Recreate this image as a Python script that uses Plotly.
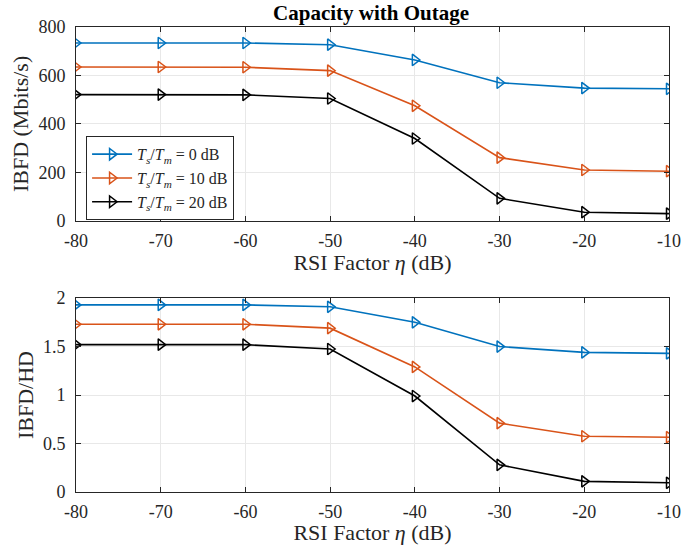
import plotly.graph_objects as go
from plotly.subplots import make_subplots

eta = [-80, -70, -60, -50, -40, -30, -20, -10]
series_names = ["<i>T<sub>s</sub></i>/<i>T<sub>m</sub></i> = 0 dB",
                "<i>T<sub>s</sub></i>/<i>T<sub>m</sub></i> = 10 dB",
                "<i>T<sub>s</sub></i>/<i>T<sub>m</sub></i> = 20 dB"]
colors = ["#0072BD", "#D95319", "#000000"]

ibfd_0 = [734, 734, 734, 727, 664, 570, 548, 545]
ibfd_10 = [635, 635, 634, 620, 475, 261, 210, 205]
ibfd_20 = [521, 521, 520, 505, 340, 93, 36, 30]

ratio_0 = [1.93, 1.93, 1.93, 1.91, 1.75, 1.50, 1.44, 1.43]
ratio_10 = [1.73, 1.73, 1.73, 1.69, 1.29, 0.71, 0.575, 0.565]
ratio_20 = [1.52, 1.52, 1.52, 1.475, 0.99, 0.28, 0.11, 0.095]

xticks = [-80, -70, -60, -50, -40, -30, -20, -10]

fig = make_subplots(rows=2, cols=1, vertical_spacing=0.166)

for i, ys in enumerate([ibfd_0, ibfd_10, ibfd_20]):
    fig.add_trace(go.Scatter(x=eta, y=ys, mode="lines+markers", name=series_names[i],
                             line=dict(color=colors[i], width=1.6),
                             marker=dict(symbol="triangle-right-open", size=10, color=colors[i],
                                         line=dict(width=1.5))),
                  row=1, col=1)
for i, ys in enumerate([ratio_0, ratio_10, ratio_20]):
    fig.add_trace(go.Scatter(x=eta, y=ys, mode="lines+markers", name=series_names[i],
                             showlegend=False,
                             line=dict(color=colors[i], width=1.6),
                             marker=dict(symbol="triangle-right-open", size=10, color=colors[i],
                                         line=dict(width=1.5))),
                  row=2, col=1)

axis_common = dict(showline=True, linecolor="#262626", linewidth=1, mirror="ticks",
                   ticks="inside", ticklen=5, tickcolor="#262626", automargin=False,
                   showgrid=True, gridcolor="#e8e8e8", gridwidth=1, zeroline=False,
                   tickfont=dict(family="Liberation Serif", size=18, color="#262626"))

title_font = dict(family="Liberation Serif", size=22, color="#262626")

fig.update_xaxes(**axis_common, range=[-80, -10], tickvals=xticks,
                 ticktext=[str(v) for v in xticks], ticklabelstandoff=3,
                 title=dict(text="RSI Factor <i>η</i> (dB)", standoff=4, font=title_font))
fig.update_yaxes(**axis_common, ticklabelstandoff=6)
fig.update_yaxes(range=[0, 800], tickvals=[0, 200, 400, 600, 800],
                 title=dict(text="IBFD (Mbits/s)", standoff=3, font=title_font),
                 row=1, col=1)
fig.update_yaxes(range=[0, 2], tickvals=[0, 0.5, 1, 1.5, 2],
                 ticktext=["0", "0.5", "1", "1.5", "2"],
                 title=dict(text="IBFD/HD", standoff=3, font=title_font),
                 row=2, col=1)

fig.update_layout(
    width=691, height=545,
    margin=dict(l=76, r=22, t=27, b=53, autoexpand=False),
    paper_bgcolor="white", plot_bgcolor="white",
    title=dict(text="<b>Capacity with Outage</b>", x=0.537, xanchor="center", y=0.976, yanchor="middle",
               font=dict(family="Liberation Serif", size=21, color="black")),
    font=dict(family="Liberation Serif", color="#262626"),
    legend=dict(x=0.017, y=0.765, xanchor="left", yanchor="top",
                bgcolor="white", bordercolor="#262626", borderwidth=1,
                font=dict(family="Liberation Serif", size=16, color="#262626"),
                tracegroupgap=0, itemwidth=40),
)

fig.write_html("out.html", config={"displayModeBar": False},
               post_script="document.body.style.margin='0';")
